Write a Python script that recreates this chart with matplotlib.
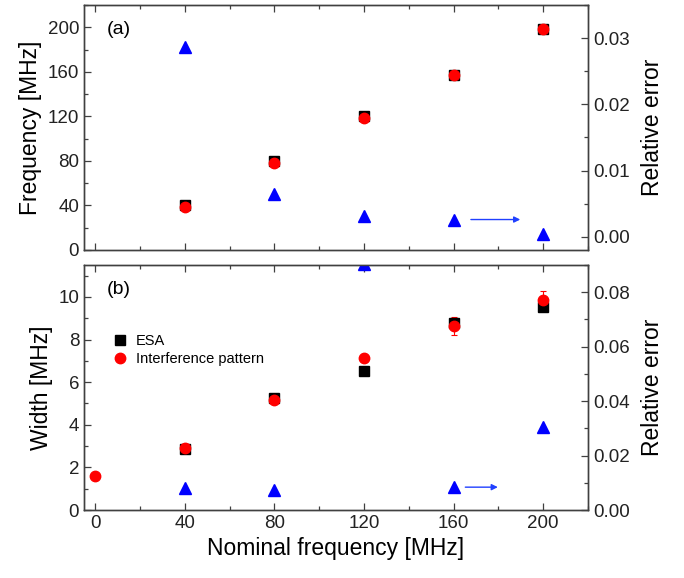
import numpy as np
import matplotlib
matplotlib.use("Agg")
import matplotlib.pyplot as plt
from matplotlib.ticker import MultipleLocator

plt.rcParams['font.family'] = ['Liberation Sans', 'DejaVu Sans']

# ---------------- data ----------------
nominal = [40, 80, 120, 160, 200]
freq_esa = [40.6, 80.1, 120.2, 157.5, 198.8]
freq_int = [38.5, 78.0, 118.4, 156.9, 198.5]
freq_err = [0.0287, 0.0064, 0.0031, 0.0026, 0.0004]

nominal_w = [0, 40, 80, 120, 160, 200]
width_int = [1.62, 2.91, 5.16, 7.15, 8.62, 9.84]
width_int_sd = [0.08, 0.12, 0.12, 0.18, 0.42, 0.46]
width_esa = [2.88, 5.27, 6.54, 8.77, 9.53]
width_esa_sd = [0.08, 0.08, 0.05, 0.15, 0.10]
width_err = [0.0080, 0.0074, 0.0905, 0.0084, 0.0305]

axis_font = {'size': 16.5}
tick_size = 13.5
spine_col = '#404040'

fig = plt.figure(figsize=(6.84, 5.78), dpi=100)
ax1 = fig.add_axes([0.1228, 0.5675, 0.7368, 0.4238])
ax2 = fig.add_axes([0.1228, 0.1176, 0.7368, 0.4239])


def style(ax, twin):
    for s in ax.spines.values():
        s.set_color(spine_col)
        s.set_linewidth(1.0)
    ax.tick_params(which='both', direction='in', colors=spine_col,
                   labelcolor='#222222', labelsize=tick_size, width=0.9)
    ax.tick_params(which='major', length=5)
    ax.tick_params(which='minor', length=3)
    ax.tick_params(axis='x', which='both', top=True)
    if twin:
        ax.tick_params(axis='y', which='both', left=False, right=True)


# ---------------- (a) ----------------
ax1.plot(nominal, freq_esa, 's', color='black', ms=6.5)
ax1.plot(nominal, freq_int, 'o', color='red', ms=7.5)
ax1.set_xlim(-5, 220)
ax1.set_ylim(0, 220)
ax1.xaxis.set_major_locator(MultipleLocator(40))
ax1.xaxis.set_minor_locator(MultipleLocator(20))
ax1.yaxis.set_major_locator(MultipleLocator(40))
ax1.yaxis.set_minor_locator(MultipleLocator(20))
ax1.set_xticklabels([])
ax1.set_ylabel('Frequency [MHz]', **axis_font)
ax1.text(0.045, 0.9, '(a)', transform=ax1.transAxes, fontsize=14, va='center')

ax1r = ax1.twinx()
ax1r.plot(nominal, freq_err, '^', color='blue', ms=8.5)
ax1r.set_ylim(-0.002, 0.035)
ax1r.yaxis.set_major_locator(MultipleLocator(0.01))
ax1r.yaxis.set_minor_locator(MultipleLocator(0.005))
ax1r.yaxis.set_major_formatter(plt.FormatStrFormatter('%.2f'))
ax1r.set_ylabel('Relative error', **axis_font, labelpad=8)
ax1r.annotate('', xy=(191, freq_err[3]), xytext=(166.5, freq_err[3]),
              arrowprops=dict(arrowstyle='-|>', color='#2040ff', lw=1.0,
                              mutation_scale=9))
style(ax1, False)
style(ax1r, True)

# ---------------- (b) ----------------
ax2.errorbar(nominal, width_esa, yerr=width_esa_sd, fmt='s', color='black',
             ms=6.5, capsize=2.5, elinewidth=0.8, capthick=0.8,
             label='ESA')
ax2.errorbar(nominal_w, width_int, yerr=width_int_sd, fmt='o', color='red',
             ms=7.5, capsize=2.5, elinewidth=0.8, capthick=0.8,
             label='Interference pattern')
ax2.set_xlim(-5, 220)
ax2.set_ylim(0, 11.5)
ax2.xaxis.set_major_locator(MultipleLocator(40))
ax2.xaxis.set_minor_locator(MultipleLocator(20))
ax2.yaxis.set_major_locator(MultipleLocator(2))
ax2.yaxis.set_minor_locator(MultipleLocator(1))
ax2.set_xlabel('Nominal frequency [MHz]', **axis_font)
ax2.set_ylabel('Width [MHz]', **axis_font)
ax2.text(0.045, 0.9, '(b)', transform=ax2.transAxes, fontsize=14, va='center')
handles, labels = ax2.get_legend_handles_labels()
handles = [h[0] for h in handles]
ax2.legend(handles, labels, loc='upper left', bbox_to_anchor=(0.03, 0.77),
           frameon=False, fontsize=10.5, handletextpad=0.6, labelspacing=0.25,
           handlelength=1.0)

ax2r = ax2.twinx()
ax2r.plot(nominal, width_err, '^', color='blue', ms=8.5)
ax2r.set_ylim(0, 0.09)
ax2r.yaxis.set_major_locator(MultipleLocator(0.02))
ax2r.yaxis.set_minor_locator(MultipleLocator(0.01))
ax2r.yaxis.set_major_formatter(plt.FormatStrFormatter('%.2f'))
ax2r.set_ylabel('Relative error', **axis_font, labelpad=8)
ax2r.annotate('', xy=(181, width_err[3]), xytext=(164, width_err[3]),
              arrowprops=dict(arrowstyle='-|>', color='#2040ff', lw=1.0,
                              mutation_scale=9))
style(ax2, False)
style(ax2r, True)

fig.savefig('out.png', dpi=100)
